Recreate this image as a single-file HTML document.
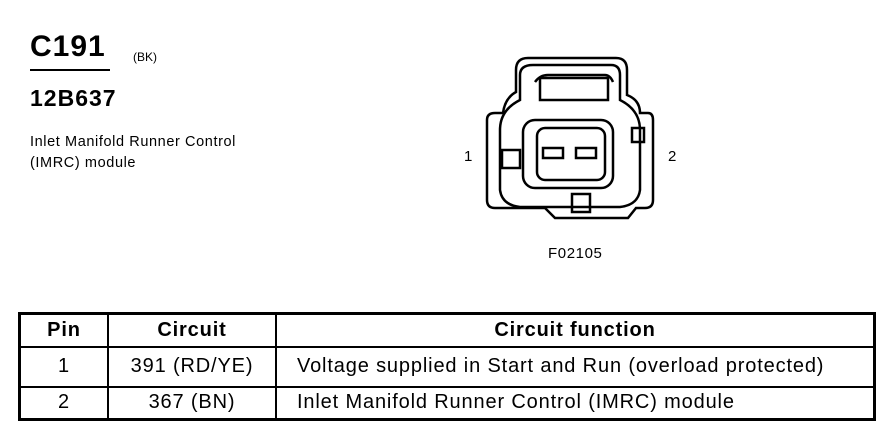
<!DOCTYPE html>
<html><head><style>
body{margin:0;background:#fff;width:888px;height:448px;position:relative;overflow:hidden;font-family:"Liberation Sans",Arial,sans-serif;color:#000}
.a{position:absolute;white-space:nowrap}
table{position:absolute;left:18px;top:312px;width:858px;height:109px;border-collapse:collapse;border:3px solid #000}
td{border:2px solid #000;font-size:20px;padding:0;letter-spacing:0.85px}
</style></head><body>
<div class="a" style="left:30px;top:30px;font-size:30px;font-weight:bold;letter-spacing:1px">C191</div>
<div class="a" style="left:30px;top:69px;width:80px;height:2px;background:#000"></div>
<div class="a" style="left:133px;top:50px;font-size:12px">(BK)</div>
<div class="a" style="left:30px;top:85px;font-size:23px;font-weight:bold;letter-spacing:1px">12B637</div>
<div class="a" style="left:30px;top:134px;font-size:14.5px;letter-spacing:0.6px">Inlet Manifold Runner Control</div>
<div class="a" style="left:30px;top:155px;font-size:14.5px;letter-spacing:0.6px">(IMRC) module</div>
<div class="a" style="left:464px;top:148px;font-size:15px">1</div>
<div class="a" style="left:668px;top:148px;font-size:15px">2</div>
<div class="a" style="left:548px;top:245px;font-size:15px;letter-spacing:0.6px">F02105</div>
<svg class="a" style="left:0;top:0" width="888" height="300" fill="none" stroke="#000" stroke-width="2.5">
<path d="M528 58 H616 Q627 58 627 70 V95 Q640 100 640 113 H648 Q653 113 653 120 V200 Q653 208 645 208 H636 L628 218 H555 L545 208 H495 Q487 208 487 200 V120 Q487 113 495 113 H503 Q505 98 516 92 V70 Q516 58 528 58 Z"/>
<path d="M533 65 H611 Q620 65 620 75 V100 Q640 110 640 130 V190 Q638 205 620 207 H520 Q502 205 500 190 V130 Q500 110 520 100 V75 Q520 65 533 65 Z"/>
<path d="M535 82 Q540 75 548 75 H605 Q610 75 613 82"/>
<rect x="540" y="78" width="68" height="22"/>
<rect x="523" y="120" width="90" height="68" rx="12"/>
<rect x="537" y="128" width="68" height="52" rx="8"/>
<rect x="543" y="148" width="20" height="10"/>
<rect x="576" y="148" width="20" height="10"/>
<rect x="502" y="150" width="18" height="18"/>
<rect x="632" y="128" width="12" height="14"/>
<rect x="572" y="194" width="18" height="18"/>
</svg>
<table>
<tr style="height:33px;font-weight:bold;text-align:center"><td style="width:86px">Pin</td><td style="width:166px">Circuit</td><td>Circuit function</td></tr>
<tr style="height:40px"><td style="text-align:center">1</td><td style="text-align:center">391 (RD/YE)</td><td style="padding-left:20px">Voltage supplied in Start and Run (overload protected)</td></tr>
<tr><td style="text-align:center">2</td><td style="text-align:center">367 (BN)</td><td style="padding-left:20px">Inlet Manifold Runner Control (IMRC) module</td></tr>
</table>
</body></html>
